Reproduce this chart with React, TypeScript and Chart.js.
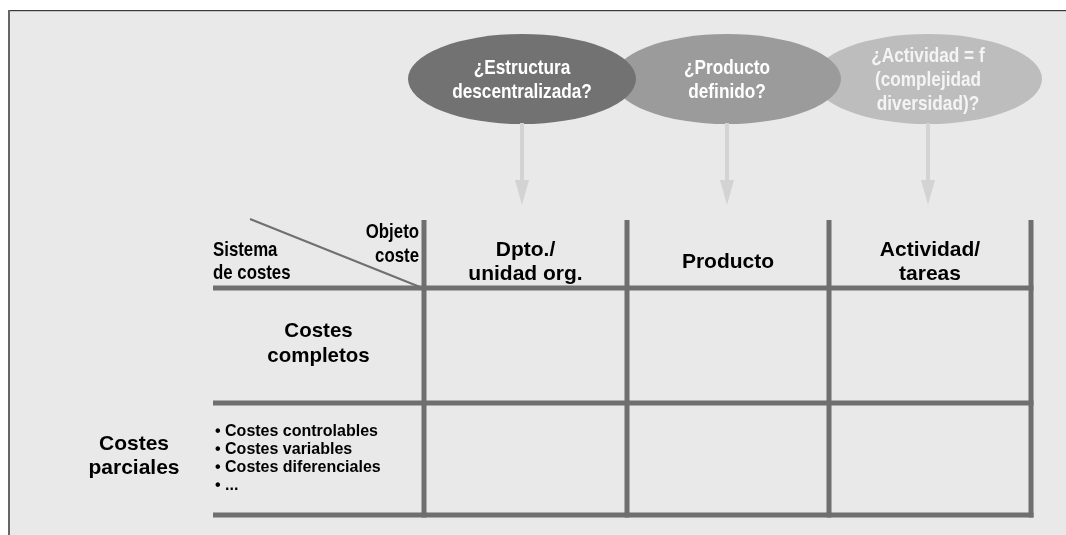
import React, { useEffect, useRef } from "react";
import { Chart, registerables } from "chart.js";

Chart.register(...registerables);

// ---- content ----
const objectColumns = ["Dpto./\nunidad org.", "Producto", "Actividad/\ntareas"];
const questions = [
  "¿Estructura\ndescentralizada?",
  "¿Producto\ndefinido?",
  "¿Actividad = f\n(complejidad\ndiversidad)?",
];
const rowLabels = ["Costes\ncompletos", "Costes\nparciales"];
const partialCostItems = [
  "• Costes controlables",
  "• Costes variables",
  "• Costes diferenciales",
  "• ...",
];
const cornerRowLabel = ["Sistema", "de costes"];
const cornerColLabel = ["Objeto", "coste"];

// ---- layout (diagram geometry, in scale units = px) ----
const W = 1066;
const H = 535;
const PANEL = { x: 8, y: 10 };
const GRID_LEFT = 213;
const COL_EDGES = [424, 627, 829, 1031];
const GRID_TOP = 220;
const ROW_EDGES = [288, 403, 515];
const GRID_LW = 5;
const ELL_CX = [522, 727, 928];
const ELL_CY = 79;
const ELL_RX = 114;
const ELL_RY = 45;
const ARROW_TIP = 205;
const ARROW_HEAD_H = 25;
const ARROW_HEAD_W = 14;

// ---- styles ----
const PANEL_BG = "#e9e9e9";
const GRID_COLOR = "#6f6f6f";
const ELL_COLORS = ["#727272", "#9b9b9b", "#bdbdbd"];
const ELL_TEXT = ["#ffffff", "#ffffff", "#f4f4f4"];
const ARROW_COLOR = "#d3d3d3";
const FONT = "'Liberation Sans', Arial, Helvetica, sans-serif";
const NARROW = 0.82;

type Pt = { x: number; y: number };

function seg(a: Pt, b: Pt, color: string, width: number) {
  return {
    data: [a, b],
    borderColor: color,
    borderWidth: width,
    pointRadius: 0,
    pointHoverRadius: 0,
    fill: false,
    tension: 0,
    borderCapStyle: "butt" as const,
    showLine: true,
  };
}

export default function App() {
  const ref = useRef<HTMLCanvasElement | null>(null);

  useEffect(() => {
    document.body.style.margin = "0";
    const canvas = ref.current;
    if (!canvas) return;

    const datasets: any[] = [];
    const gridRight = COL_EDGES[COL_EDGES.length - 1] + GRID_LW / 2;
    const gridBottom = ROW_EDGES[ROW_EDGES.length - 1] + GRID_LW / 2;
    ROW_EDGES.forEach((y) =>
      datasets.push(seg({ x: GRID_LEFT, y }, { x: gridRight, y }, GRID_COLOR, GRID_LW))
    );
    COL_EDGES.forEach((x) =>
      datasets.push(seg({ x, y: GRID_TOP }, { x, y: gridBottom }, GRID_COLOR, GRID_LW))
    );
    // diagonal in corner cell
    datasets.push(
      seg({ x: 250, y: GRID_TOP - 1 }, { x: COL_EDGES[0] - 4, y: ROW_EDGES[0] - 1 }, GRID_COLOR, 2)
    );
    // arrow shafts
    questions.forEach((_, i) =>
      datasets.push(
        seg(
          { x: ELL_CX[i], y: ELL_CY + ELL_RY - 1 },
          { x: ELL_CX[i], y: ARROW_TIP - ARROW_HEAD_H + 2 },
          ARROW_COLOR,
          4
        )
      )
    );

    const diagramPlugin = {
      id: "diagram",
      beforeDraw(chart: any) {
        const ctx: CanvasRenderingContext2D = chart.ctx;
        const sx = chart.scales.x;
        const sy = chart.scales.y;
        const X = (v: number) => sx.getPixelForValue(v);
        const Y = (v: number) => sy.getPixelForValue(v);
        ctx.save();
        ctx.fillStyle = "#ffffff";
        ctx.fillRect(0, 0, chart.width, chart.height);
        ctx.fillStyle = PANEL_BG;
        ctx.fillRect(X(PANEL.x), Y(PANEL.y), X(W) - X(PANEL.x), Y(H) - Y(PANEL.y));
        // frame
        ctx.fillStyle = "#3a3a3a";
        ctx.fillRect(X(PANEL.x), Y(PANEL.y), X(W) - X(PANEL.x), 1.2);
        ctx.fillStyle = "#666666";
        ctx.fillRect(X(PANEL.x), Y(PANEL.y), 2, Y(H) - Y(PANEL.y));

        // ellipses (back to front)
        for (let i = questions.length - 1; i >= 0; i--) {
          ctx.beginPath();
          ctx.ellipse(X(ELL_CX[i]), Y(ELL_CY), ELL_RX, ELL_RY, 0, 0, Math.PI * 2);
          ctx.fillStyle = ELL_COLORS[i];
          ctx.fill();
        }
        // ellipse texts
        ctx.textAlign = "center";
        ctx.textBaseline = "middle";
        ctx.font = `bold 21px ${FONT}`;
        questions.forEach((q, i) => {
          const lines = q.split("\n");
          const step = 24;
          const y0 = ELL_CY - 11 - ((lines.length - 2) * step) / 2;
          ctx.fillStyle = ELL_TEXT[i];
          lines.forEach((ln, k) => {
            ctx.save();
            ctx.translate(X(ELL_CX[i]), Y(y0 + k * step));
            ctx.scale(NARROW, 1);
            ctx.fillText(ln, 0, 0);
            ctx.restore();
          });
        });
        // arrow heads
        ctx.fillStyle = ARROW_COLOR;
        questions.forEach((_, i) => {
          const cx = X(ELL_CX[i]);
          ctx.beginPath();
          ctx.moveTo(cx - ARROW_HEAD_W / 2, Y(ARROW_TIP - ARROW_HEAD_H));
          ctx.lineTo(cx + ARROW_HEAD_W / 2, Y(ARROW_TIP - ARROW_HEAD_H));
          ctx.lineTo(cx, Y(ARROW_TIP));
          ctx.closePath();
          ctx.fill();
        });
        ctx.restore();
      },
      afterDatasetsDraw(chart: any) {
        const ctx: CanvasRenderingContext2D = chart.ctx;
        const sx = chart.scales.x;
        const sy = chart.scales.y;
        const X = (v: number) => sx.getPixelForValue(v);
        const Y = (v: number) => sy.getPixelForValue(v);
        ctx.save();
        ctx.fillStyle = "#000000";
        ctx.textBaseline = "middle";

        const narrowText = (t: string, x: number, y: number, align: CanvasTextAlign) => {
          ctx.save();
          ctx.textAlign = align;
          ctx.translate(X(x), Y(y));
          ctx.scale(NARROW, 1);
          ctx.fillText(t, 0, 0);
          ctx.restore();
        };

        // column headers
        ctx.font = `bold 21px ${FONT}`;
        ctx.textAlign = "center";
        const headMid = (GRID_TOP + ROW_EDGES[0]) / 2 + 8;
        objectColumns.forEach((c, i) => {
          const cx = (COL_EDGES[i] + COL_EDGES[i + 1]) / 2;
          const lines = c.split("\n");
          lines.forEach((ln, k) => {
            const y = headMid + (k - (lines.length - 1) / 2) * 24;
            ctx.fillText(ln, X(cx), Y(y));
          });
        });

        // corner labels (narrow)
        ctx.font = `bold 20.5px ${FONT}`;
        cornerColLabel.forEach((t, k) => narrowText(t, COL_EDGES[0] - 5, 232 + k * 24, "right"));
        cornerRowLabel.forEach((t, k) => narrowText(t, GRID_LEFT, 250 + k * 23, "left"));

        // Costes completos
        ctx.textAlign = "center";
        ctx.font = `bold 20.5px ${FONT}`;
        const r1 = rowLabels[0].split("\n");
        const r1mid = (ROW_EDGES[0] + ROW_EDGES[1]) / 2 - 2;
        r1.forEach((ln, k) => {
          ctx.fillText(ln, X((GRID_LEFT + COL_EDGES[0]) / 2), Y(r1mid + (k - 0.5) * 25));
        });

        // Costes parciales
        ctx.font = `bold 21px ${FONT}`;
        const r2 = rowLabels[1].split("\n");
        const r2mid = (ROW_EDGES[1] + ROW_EDGES[2]) / 2 - 3;
        r2.forEach((ln, k) => {
          ctx.fillText(ln, X(134), Y(r2mid + (k - 0.5) * 24));
        });

        // bullets
        ctx.font = `bold 16px ${FONT}`;
        ctx.textAlign = "left";
        partialCostItems.forEach((t, k) => {
          ctx.fillText(t, X(GRID_LEFT + 2), Y(432 + k * 17.7));
        });
        ctx.restore();
      },
    };

    const chart = new Chart(canvas, {
      type: "line",
      data: { datasets },
      options: {
        animation: false,
        responsive: false,
        maintainAspectRatio: false,
        devicePixelRatio: 1,
        events: [],
        layout: { padding: 0 },
        plugins: { legend: { display: false }, tooltip: { enabled: false } },
        scales: {
          x: { type: "linear", min: 0, max: W, display: false },
          y: { type: "linear", min: 0, max: H, reverse: true, display: false },
        },
      },
      plugins: [diagramPlugin],
    });

    return () => chart.destroy();
  }, []);

  return (
    <div style={{ width: W, height: H, overflow: "hidden" }}>
      <canvas ref={ref} width={W} height={H} style={{ display: "block" }} />
    </div>
  );
}
